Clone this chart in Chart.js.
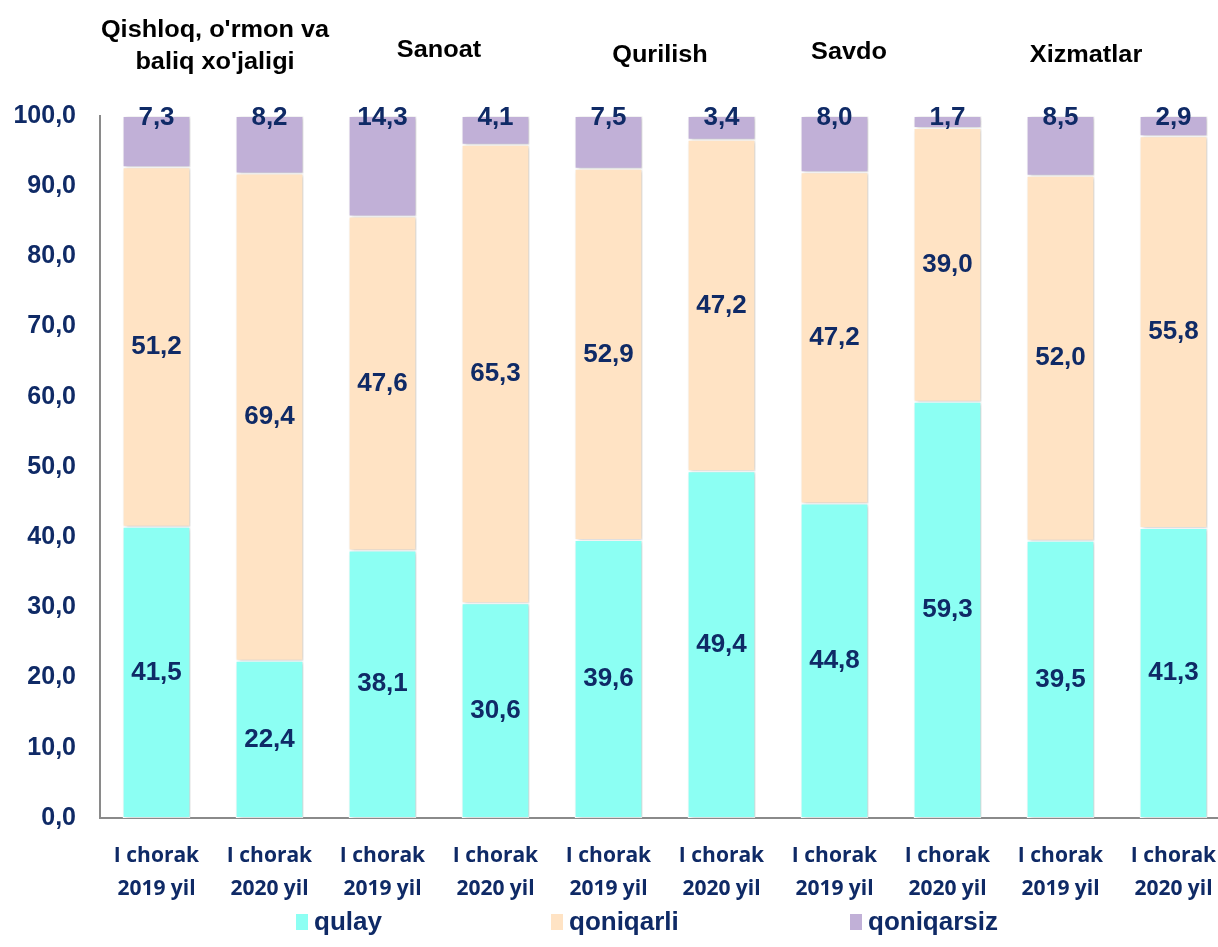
<!DOCTYPE html>
<html>
<head>
<meta charset="utf-8">
<script src="https://cdn.jsdelivr.net/npm/chart.js@4/dist/chart.umd.min.js"></script>
<style>
  html, body { margin: 0; padding: 0; background: #fff; overflow: hidden; }
  #wrap { width: 1232px; height: 947px; }
</style>
</head>
<body>
<div id="wrap"><canvas id="myChart" width="1232" height="947"></canvas></div>
<script>
const labels = [
    ['I chorak', '2019 yil'], ['I chorak', '2020 yil'],
    ['I chorak', '2019 yil'], ['I chorak', '2020 yil'],
    ['I chorak', '2019 yil'], ['I chorak', '2020 yil'],
    ['I chorak', '2019 yil'], ['I chorak', '2020 yil'],
    ['I chorak', '2019 yil'], ['I chorak', '2020 yil']
];
const groups = [['Qishloq, o\'rmon va', 'baliq xo\'jaligi'], ['Sanoat'], ['Qurilish'], ['Savdo'], ['Xizmatlar']];
const seriesNames = ['qulay', 'qoniqarli', 'qoniqarsiz'];
const qulay = [41.5, 22.4, 38.1, 30.6, 39.6, 49.4, 44.8, 59.3, 39.5, 41.3];
const qoniqarli = [51.2, 69.4, 47.6, 65.3, 52.9, 47.2, 47.2, 39.0, 52.0, 55.8];
const qoniqarsiz = [7.3, 8.2, 14.3, 4.1, 7.5, 3.4, 8.0, 1.7, 8.5, 2.9];

const navy = '#0f2a66';
const colors = ['#8cfff3', '#ffe3c4', '#c1b0d7'];

function fmt(v) {
    return v.toFixed(1).replace('.', ',');
}

// value labels, headers and legend
const extras = {
    id: 'extras',
    beforeDatasetsDraw(chart) {
        const c = chart.ctx;
        c.save();
        c.shadowColor = 'rgba(0,0,0,0.22)';
        c.shadowBlur = 4;
        c.shadowOffsetX = 2;
        c.shadowOffsetY = 1;
    },
    afterDatasetsDraw(chart) {
        const c = chart.ctx;
        c.restore();
        c.save();
        c.font = 'bold 26px "Liberation Sans", Arial';
        c.fillStyle = navy;
        c.textAlign = 'center';
        c.textBaseline = 'middle';
        chart.data.datasets.forEach(function (ds, i) {
            chart.getDatasetMeta(i).data.forEach(function (el, j) {
                let y = (el.y + el.base) / 2;
                if (i === 2) y = el.y + 2;
                c.fillText(fmt(ds.data[j]), el.x, y);
            });
        });

        // group headers
        const xs = chart.scales.x;
        const shift = [2, 0, -5, -42, -31];
        const ys = [[31, 63], [51], [56], [53], [56]];
        c.fillStyle = '#000';
        c.font = 'bold 23px "Liberation Sans", Arial';
        groups.forEach(function (g, k) {
            const cx = (xs.getPixelForValue(2 * k) + xs.getPixelForValue(2 * k + 1)) / 2 + shift[k];
            g.forEach(function (line, n) {
                c.save();
                c.translate(cx, ys[k][n]);
                c.scale(1.1, 1);
                c.fillText(line, 0, 0);
                c.restore();
            });
        });

        // legend
        const lx = [296, 551, 850];
        c.font = 'bold 26px "Liberation Sans", Arial';
        c.textAlign = 'left';
        seriesNames.forEach(function (name, i) {
            c.fillStyle = colors[i];
            c.fillRect(lx[i], 914, 12, 16);
            c.fillStyle = navy;
            c.fillText(name, lx[i] + 18, 923);
        });
        c.restore();
    }
};

const ctx = document.getElementById('myChart');

const data = {
    labels: labels,
    datasets: [qulay, qoniqarli, qoniqarsiz].map(function (vals, i) {
        return {
            label: seriesNames[i],
            data: vals,
            backgroundColor: colors[i],
            borderColor: '#ffffff',
            borderWidth: 1,
            borderSkipped: false,
            categoryPercentage: 1.0,
            barPercentage: 0.6
        };
    })
};

new Chart(ctx, {
    type: 'bar',
    data: data,
    plugins: [extras],
    options: {
        responsive: false,
        animation: false,
        layout: { padding: { top: 116, right: 2, left: 0, bottom: 0 } },
        plugins: {
            legend: { display: false },
            tooltip: { enabled: false }
        },
        scales: {
            x: {
                stacked: true,
                grid: { display: false },
                border: { display: true, color: '#8a8a8a', width: 2 },
                ticks: {
                    color: navy,
                    padding: 14,
                    maxRotation: 0,
                    autoSkip: false,
                    font: { family: '"Open Sans"', weight: 'bold', size: 21, lineHeight: 1.55 }
                },
                afterFit: function (s) { s.height = 129; }
            },
            y: {
                stacked: true,
                min: 0,
                max: 100,
                grid: { display: false },
                border: { display: true, color: '#8a8a8a', width: 2 },
                ticks: {
                    stepSize: 10,
                    color: navy,
                    padding: 16,
                    font: { family: '"Liberation Sans", Arial', weight: 'bold', size: 25 },
                    callback: function (v) { return fmt(v); }
                },
                afterFit: function (s) { s.width = 100; }
            }
        }
    }
});
</script>
</body>
</html>
